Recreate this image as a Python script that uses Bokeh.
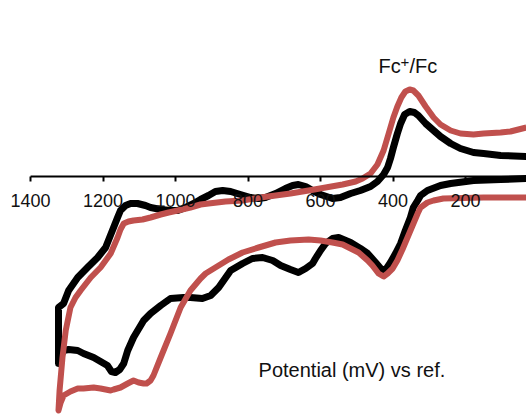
from bokeh.plotting import figure
from bokeh.models import Range1d, FixedTicker, Label
from bokeh.embed import file_html
from bokeh.resources import INLINE

# Potential (mV) and current (arbitrary units) for the two voltammograms
black_E = [32, 103, 178, 241, 269, 305, 324, 332, 344, 352, 366, 379, 393, 407, 418, 426, 434, 448,
           470, 490, 517, 550, 567, 586, 600, 614, 622, 641, 661, 683, 710, 732, 760, 788, 815, 848,
           881, 903, 926, 959, 978, 1014, 1041, 1069, 1088, 1116, 1132, 1143, 1154, 1166, 1177, 1188,
           1207, 1226, 1254, 1270, 1295, 1309, 1317, 1323,
           1323, 1309, 1295, 1270, 1243, 1215, 1193, 1171, 1160, 1152, 1138, 1124, 1105, 1083, 1069,
           1041, 1014, 994, 972, 950, 931, 909, 890, 870, 848, 821, 793, 771, 752, 724, 697, 677, 661,
           641, 622, 600, 567, 545, 517, 490, 462, 443, 426, 415, 407, 399, 388, 379, 368, 354, 341,
           330, 310, 288, 269, 241, 214, 178, 150, 103, 32]
black_I = [-0.2, -0.3, -0.4, -0.7, -0.9, -1.4, -1.9, -2.4, -3.1, -4.1, -5.4, -6.7, -7.7, -8.6, -9.2,
           -9.4, -9.2, -8.6, -7.7, -7.2, -6.6, -6.1, -6.2, -6.7, -7.4, -8.2, -8.7, -9.2, -9.6, -9.3,
           -8.9, -8.4, -8.1, -8.2, -8.7, -9.4, -11.1, -11.9, -12.2, -12.1, -12.1, -12.2, -12.9, -13.7,
           -14.4, -16.1, -17.4, -18.7, -19.3, -19.6, -19.5, -18.9, -18.5, -18.1, -17.7, -17.4, -17.3,
           -17.4, -18.0, -18.7,
           -13.1, -12.7, -11.4, -10.1, -9.1, -8.1, -7.1, -5.1, -4.1, -3.4, -2.9, -2.7, -2.7, -2.9,
           -3.1, -3.3, -3.4, -3.4, -3.1, -2.7, -2.3, -1.9, -1.5, -1.4, -1.5, -1.8, -2.1, -2.2, -2.1,
           -1.7, -1.2, -0.9, -0.8, -1.0, -1.4, -1.8, -2.2, -2.1, -1.7, -1.4, -1.0, -0.5, 0.2, 0.9,
           1.8, 2.9, 4.3, 5.3, 6.2, 6.5, 6.4, 6.1, 5.3, 4.6, 4.0, 3.3, 2.8, 2.4, 2.3, 2.1, 2.0]

red_E = [32, 150, 261, 288, 305, 324, 332, 346, 360, 374, 388, 401, 415, 426, 440, 457, 470, 495,
         517, 539, 567, 600, 633, 683, 724, 771, 815, 854, 890, 917, 931, 959, 986, 1014, 1041, 1061,
         1069, 1080, 1088, 1102, 1116, 1132, 1152, 1171, 1179, 1207, 1226, 1254, 1270, 1290, 1309,
         1317, 1323,
         1320, 1312, 1303, 1290, 1276, 1262, 1234, 1207, 1193, 1179, 1160, 1152, 1143, 1130, 1116,
         1091, 1069, 1041, 1019, 994, 959, 931, 909, 862, 815, 766, 724, 683, 633, 586, 539, 503,
         484, 462, 443, 426, 412, 399, 388, 377, 366, 354, 344, 330, 310, 288, 269, 241, 214, 178,
         150, 103, 76, 54, 32]
red_I = [-2.1, -2.1, -2.2, -2.4, -2.6, -3.1, -3.7, -4.9, -6.1, -7.3, -8.4, -9.2, -9.7, -10.0, -9.7,
         -8.9, -8.4, -7.6, -7.2, -6.8, -6.6, -6.4, -6.3, -6.4, -6.6, -7.1, -7.6, -8.3, -9.1, -9.7,
         -10.2, -11.4, -13.1, -15.7, -18.1, -19.9, -20.4, -20.7, -20.7, -20.6, -20.4, -20.7, -21.1,
         -21.3, -21.4, -21.2, -21.1, -21.2, -21.2, -21.5, -21.9, -22.6, -23.4,
         -21.4, -18.1, -15.4, -13.1, -12.1, -11.4, -10.1, -9.1, -8.4, -7.7, -6.1, -5.3, -4.7, -4.5,
         -4.4, -4.3, -4.1, -3.8, -3.6, -3.4, -3.1, -2.8, -2.7, -2.5, -2.4, -2.1, -1.9, -1.7, -1.4,
         -1.1, -0.8, -0.5, -0.2, 0.3, 1.2, 2.6, 4.3, 5.9, 7.0, 7.9, 8.5, 8.7, 8.6, 8.1, 7.0, 5.9,
         5.2, 4.6, 4.3, 4.2, 4.3, 4.4, 4.5, 4.7, 4.9]

x_ticks = [1400, 1200, 1000, 800, 600, 400, 200]

x_lo, x_hi = 1483, 31.7
p = figure(width=526, height=416, output_backend="svg", toolbar_location=None,
           x_range=Range1d(x_lo, x_hi), y_range=Range1d(-24.0, 17.6),
           min_border_left=0, min_border_right=0, min_border_top=0, min_border_bottom=0)
p.outline_line_color = None
p.xgrid.visible = False
p.ygrid.visible = False
p.yaxis.visible = False
p.background_fill_color = "white"

ax = p.xaxis[0]
ax.fixed_location = 0
ax.ticker = FixedTicker(ticks=x_ticks)
ax.major_tick_in = 0
ax.major_tick_out = 5
ax.minor_tick_line_color = None
ax.axis_line_color = None
ax.major_tick_line_width = 2
ax.major_tick_line_color = "black"
ax.major_label_text_font = "Liberation Sans"
ax.major_label_text_font_size = "18px"
ax.major_label_text_color = "#111111"
ax.major_label_standoff = 12

p.line(black_E, black_I, line_color="black", line_width=7, line_join="round")
p.line(red_E, red_I, line_color="#C0504D", line_width=6, line_join="round")
# visible x-axis line, starting at the first tick
p.segment(x0=[x_ticks[0]], y0=[0], x1=[x_hi], y1=[0], line_color="black", line_width=2)

font = "Liberation Sans"
p.add_layout(Label(x=440, y=10.0, text="Fc", text_font=font, text_font_size="20px",
                   text_color="#111111"))
p.add_layout(Label(x=440, y=10.95, x_offset=22, text="+", text_font=font,
                   text_font_size="15px", text_color="#111111"))
p.add_layout(Label(x=440, y=10.0, x_offset=31, text="/Fc", text_font=font, text_font_size="20px",
                   text_color="#111111"))
p.add_layout(Label(x=771, y=-20.4, text="Potential (mV) vs ref.", text_font=font,
                   text_font_size="20px", text_color="#111111"))

open("out.html", "w").write(file_html(p, INLINE))
